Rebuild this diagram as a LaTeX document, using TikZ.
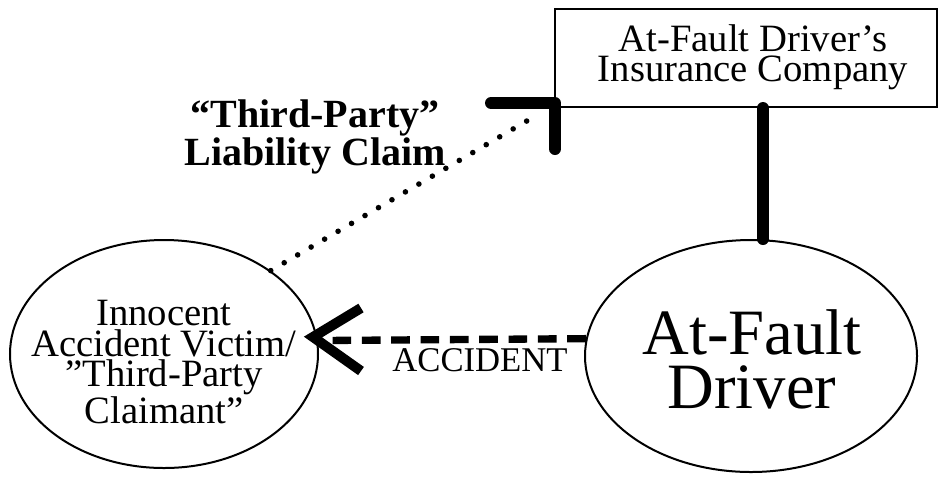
\documentclass[tikz,border=0pt]{standalone}
\usepackage{fontspec}
\setmainfont{Liberation Serif}
\usetikzlibrary{shapes.geometric,calc}
\begin{document}
\begin{tikzpicture}[x=0.75pt,y=-0.75pt,
  thinline/.style={draw=black,line width=1.5pt},
  heavy/.style={line width=9pt,line cap=round,line join=round},
  dashline/.style={line width=5.5pt,dash pattern=on 14pt off 8pt},
  dotline/.style={line width=4.2pt,line cap=round,dash pattern=on 0pt off 11.7pt},
  oval/.style={ellipse,thinline,inner sep=0pt},
  txt/.style={inner sep=0pt,align=center}]
\useasboundingbox (0,0) rectangle (941,476);

% nodes
\node[thinline,rectangle,minimum width=286.5pt,minimum height=73.5pt,inner sep=0pt] (ins) at (746,58) {};
\node[txt,font=\fontsize{29pt}{22.5pt}\selectfont] (instext) at (753,57) {At-Fault Driver’s\\Insurance Company};

\node[oval,minimum width=231pt,minimum height=171pt] (victim) at (164,354) {};
\node[txt,font=\fontsize{29pt}{23pt}\selectfont] (victimtext) at (164,362) {Innocent\\Accident Victim/\\”Third-Party\\Claimant”};

\node[oval,minimum width=249pt,minimum height=174pt] (driver) at (751,356) {};
\node[txt,font=\fontsize{48.5pt}{40.5pt}\selectfont] (drivertext) at (752,359) {At-Fault\\Driver};

\node[txt,font=\fontsize{26pt}{26pt}\selectfont] (acc) at (480,360.5) {ACCIDENT};
\node[txt,font=\bfseries\fontsize{30pt}{22.5pt}\selectfont] (claim) at (315,137) {“Third-Party”\\Liability Claim};

% coordinates
\coordinate (c1) at (763,0);
\coordinate (corner) at (555,103);
\coordinate (dotend) at (537,115);
\coordinate (tip) at (313,337);

% insurance company -- driver
\draw[heavy] (ins.south -| c1) -- (driver.north -| c1);

% accident dashed arrow
\draw[dashline] (driver.174) -- (victim.5);
\draw[heavy,line width=7.5pt,line cap=butt,line join=miter] ($(tip)+(48,-29)$) -- (tip) -- ($(tip)+(48,34)$);

% liability claim dotted
\draw[dotline] (victim.38) -- (dotend);
\draw[heavy] ($(corner)+(-64,0)$) -- (corner) -- ($(corner)+(0,46)$);
\end{tikzpicture}
\end{document}
